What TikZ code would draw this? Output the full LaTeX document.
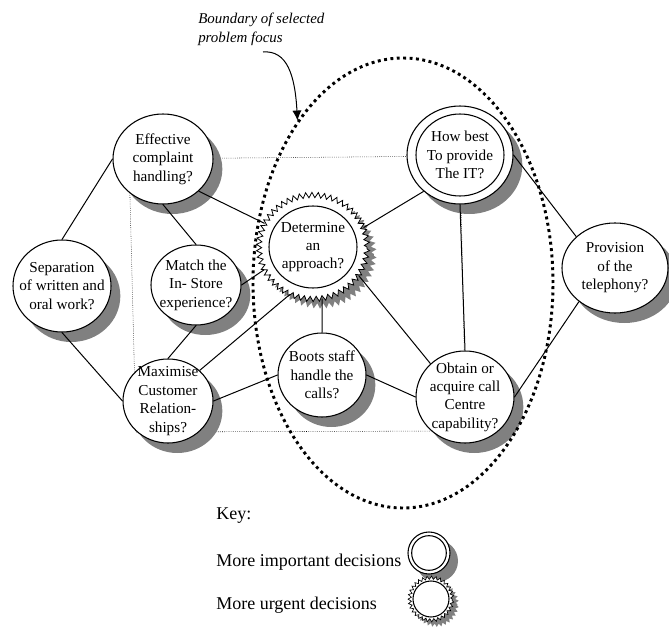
\documentclass[tikz,border=0pt]{standalone}
\usepackage{fontspec}
\setmainfont{Liberation Serif}
\usetikzlibrary{shapes.geometric,shadows,decorations.pathmorphing,arrows.meta}
\definecolor{shadowgray}{HTML}{808080}
\newcommand{\nodefont}{\fontsize{11.4}{13.8}\selectfont}
\newcommand{\keyfont}{\fontsize{13.5}{16}\selectfont}
\newcommand{\bndfont}{\fontsize{11.2}{14.3}\selectfont\itshape}

\begin{document}
\begin{tikzpicture}[x=0.75pt, y=-0.75pt,
    dec/.style 2 args={ellipse, draw, line width=0.8pt, fill=white, inner sep=0pt,
      minimum width=#1, minimum height=#2},
    shd/.style={drop shadow={shadow xshift=7pt, shadow yshift=-7.5pt, fill=shadowgray, opacity=1}},
    txt/.style={align=center, font=\nodefont, inner sep=0pt},
    zz/.style={line width=0.6pt, decorate, decoration={zigzag, segment length=4.6pt, amplitude=2pt}},
    zzkey/.style={line width=0.5pt, decorate, decoration={zigzag, segment length=3.2pt, amplitude=1.2pt}},
    keytxt/.style={anchor=west, font=\keyfont, inner sep=0pt},
    link/.style={line width=0.75pt},
    frame/.style={densely dotted, line width=0.4pt},
    focus/.style={line width=2.2pt, dash pattern=on 2.2pt off 2.6pt}]
  \useasboundingbox (0,0) rectangle (669,628);
  % 虚线框
  \draw[frame] (129,159) -- (460,156) -- (466,431) -- (136,432) -- cycle;
  % 决策节点
  \node[dec={75pt}{67.5pt}, shd, label={[txt]center:Effective\\complaint\\handling?}] (eff) at (163,159) {};
  \node[dec={73.5pt}{69pt}, shd, label={[txt]center:Separation\\of written and\\oral work?}] (sep) at (62,286) {};
  \node[dec={67.5pt}{60pt}, shd, label={[txt]center:Match the\\In- Store\\experience?}] (mat) at (196,285) {};
  \node[dec={67.5pt}{63pt}, shd, label={[txt]center:Maximise\\Customer\\Relation-\\ships?}] (max) at (168,401) {};
  \node[dec={66pt}{63pt}, shd, label={[txt]center:Boots staff\\handle the\\calls?}] (boo) at (322,375) {};
  \node[dec={73.5pt}{69pt}, shd, label={[txt]center:Obtain or\\acquire call\\Centre\\capability?}] (obt) at (465,397) {};
  \node[dec={79.5pt}{67.5pt}, shd, label={[txt]center:Provision\\of the\\telephony?}] (pro) at (615,268) {};
  % 重要决策(双圆)
  \node[dec={79.5pt}{73.5pt}, shd] (how) at (460,155) {};
  \node[dec={66pt}{61.5pt}, label={[txt]center:How best\\To provide\\The IT?}] (howin) at (460,155) {};
  % 紧急决策(锯齿)
  \node[dec={81pt}{78pt}, zz, draw=none, fill=shadowgray] (detshd) at (320,254) {};
  \node[dec={81pt}{78pt}, zz] (detz) at (313,247) {};
  \node[dec={66pt}{61.5pt}, label={[txt]center:Determine\\an\\approach?}] (det) at (313,247) {};
  % 连线
  \foreach \a/\b in {eff.west/sep.north, eff.south/mat.north, eff.-42/detz.154,
      sep.south/max.west, mat.south/max.north, mat.east/detz.205, max.44/detz.244,
      max.east/boo.west, detz.-80/boo.north, detz.-32/obt.136, detz.21/how.225,
      how.south/obt.north, how.east/pro.141, boo.east/obt.west, obt.east/pro.223}
    \draw[link] (\a) -- (\b);
  % 问题边界
  \node[ellipse, draw, focus, inner sep=0pt, minimum width=225pt, minimum height=337.5pt] (foc) at (403,283) {};
  \node[anchor=west, align=left, font=\bndfont, inner sep=0pt] (bnd) at (198,29) {Boundary of selected\\problem focus};
  \coordinate (arrs) at (263,52);
  \draw[link, -{Latex[length=7.5pt, width=7pt]}] (arrs) .. controls (287,50) and (295,75) .. (foc.123);
  % 图例
  \node[keytxt] (key) at (216,516) {Key:};
  \node[keytxt] (keyimp) at (216,562) {More important decisions};
  \node[keytxt] (keyurg) at (216,605) {More urgent decisions};
  \node[dec={31.5pt}{31.5pt}, drop shadow={shadow xshift=6pt, shadow yshift=-6pt, fill=shadowgray, opacity=1}] (impout) at (429,553) {};
  \node[dec={26pt}{26pt}] (impin) at (429,553) {};
  \node[dec={32pt}{32pt}, zzkey, draw=none, fill=shadowgray] (urgshd) at (436,604) {};
  \node[dec={32pt}{32pt}, zzkey] (urgout) at (431,599) {};
  \node[dec={27pt}{27pt}] (urgin) at (431,599) {};
\end{tikzpicture}
\end{document}
